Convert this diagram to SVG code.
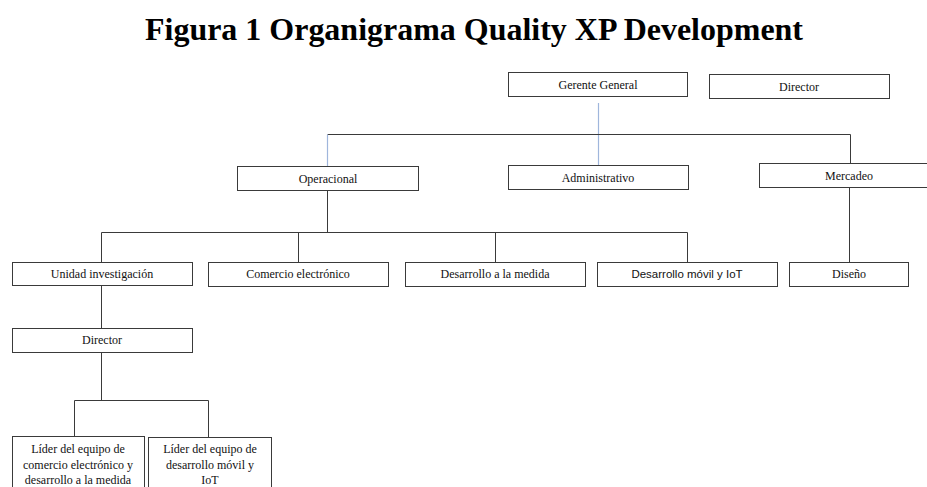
<svg xmlns="http://www.w3.org/2000/svg" width="927" height="487" viewBox="0 0 927 487">
  <style>
    .box { fill: #ffffff; stroke: #3a3a3a; stroke-width: 1; }
    .lbl { font-family: "Liberation Serif", "Times New Roman", serif; font-size: 12px; fill: #111; text-anchor: middle; }
    .sans { font-family: "Liberation Sans", Arial, sans-serif; font-size: 11.5px; fill: #111; text-anchor: middle; }
    .ln { fill: none; stroke: #3a3a3a; stroke-width: 1; }
    .blue { fill: none; stroke: #9fb6dc; stroke-width: 1.2; }
    .title { font-family: "Liberation Serif", "Times New Roman", serif; font-size: 31px; font-weight: bold; fill: #000; text-anchor: middle; }
  </style>
  <rect x="0" y="0" width="927" height="487" fill="#ffffff"/>

  <text class="title" x="474" y="40" textLength="658" lengthAdjust="spacingAndGlyphs">Figura 1 Organigrama Quality XP Development</text>

  <g id="connectors">
    <path class="blue" d="M598.5 103 V165"/>
    <path class="ln" d="M327.5 134.5 H850.5 V163"/>
    <path class="blue" d="M327.5 134.5 V167"/>
    <path class="ln" d="M327.5 190 V232.5"/>
    <path class="ln" d="M101.5 262 V232.5 H687.5 V262"/>
    <path class="ln" d="M298.5 232.5 V262"/>
    <path class="ln" d="M495.5 232.5 V262"/>
    <path class="ln" d="M849.5 187 V262"/>
    <path class="ln" d="M101.5 286 V328"/>
    <path class="ln" d="M101.5 352 V400.5"/>
    <path class="ln" d="M74.5 436 V400.5 H208.5 V437"/>
  </g>

  <g id="gerente-general">
    <rect class="box" x="508.5" y="72.5" width="179" height="24"/>
    <text class="lbl" x="598" y="89">Gerente General</text>
  </g>
  <g id="director-top">
    <rect class="box" x="709.5" y="74.5" width="180" height="24"/>
    <text class="lbl" x="799" y="91">Director</text>
  </g>
  <g id="operacional">
    <rect class="box" x="237.5" y="166.5" width="181" height="24"/>
    <text class="lbl" x="328" y="183">Operacional</text>
  </g>
  <g id="administrativo">
    <rect class="box" x="508.5" y="165.5" width="180" height="24"/>
    <text class="lbl" x="598" y="182">Administrativo</text>
  </g>
  <g id="mercadeo">
    <rect class="box" x="759.5" y="163.5" width="170" height="24"/>
    <text class="lbl" x="849" y="180">Mercadeo</text>
  </g>
  <g id="unidad-investigacion">
    <rect class="box" x="12.5" y="262.5" width="180" height="23"/>
    <text class="lbl" x="102" y="278">Unidad investigación</text>
  </g>
  <g id="comercio-electronico">
    <rect class="box" x="208.5" y="262.5" width="180" height="24"/>
    <text class="lbl" x="298" y="278">Comercio electrónico</text>
  </g>
  <g id="desarrollo-medida">
    <rect class="box" x="405.5" y="262.5" width="180" height="24"/>
    <text class="lbl" x="495" y="278">Desarrollo a la medida</text>
  </g>
  <g id="desarrollo-movil">
    <rect class="box" x="597.5" y="262.5" width="180" height="24"/>
    <text class="sans" x="687" y="278">Desarrollo móvil y IoT</text>
  </g>
  <g id="diseno">
    <rect class="box" x="789.5" y="262.5" width="119" height="24"/>
    <text class="lbl" x="849" y="278">Diseño</text>
  </g>
  <g id="director-unidad">
    <rect class="box" x="12.5" y="328.5" width="180" height="24"/>
    <text class="lbl" x="102" y="344">Director</text>
  </g>
  <g id="lider-comercio">
    <rect class="box" x="12.5" y="436.5" width="132" height="56"/>
    <text class="lbl" x="78" y="453">Líder del equipo de</text>
    <text class="lbl" x="78" y="469">comercio electrónico y</text>
    <text class="lbl" x="78" y="484">desarrollo a la medida</text>
  </g>
  <g id="lider-movil">
    <rect class="box" x="148.5" y="437.5" width="123" height="56"/>
    <text class="lbl" x="210" y="453">Líder del equipo de</text>
    <text class="lbl" x="210" y="469">desarrollo móvil y</text>
    <text class="lbl" x="210" y="484">IoT</text>
  </g>
</svg>
